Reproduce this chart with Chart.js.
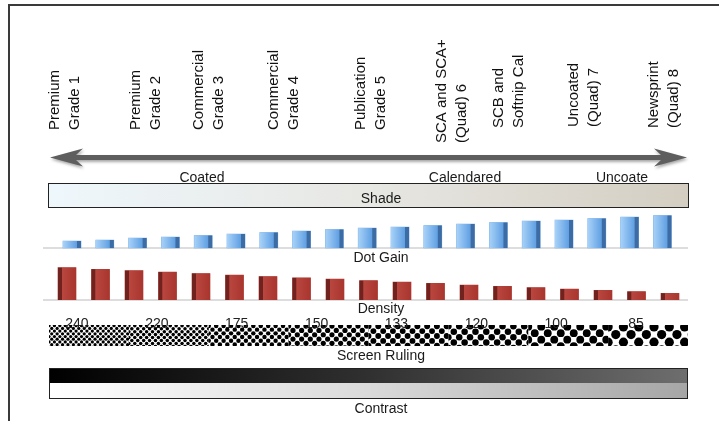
<!DOCTYPE html>
<html>
<head>
<meta charset="utf-8">
<script src="https://cdn.jsdelivr.net/npm/chart.js@4/dist/chart.umd.min.js"></script>
<style>
  html, body { margin: 0; padding: 0; background: #fff; }
  #chart { display: block; }
</style>
</head>
<body>
<canvas id="chart" width="719" height="421"></canvas>
<script>
// paper grades along the top, two lines each
const grades = [
  ["Premium", "Grade 1"],
  ["Premium", "Grade 2"],
  ["Commercial", "Grade 3"],
  ["Commercial", "Grade 4"],
  ["Publication", "Grade 5"],
  ["SCA and SCA+", "(Quad) 6"],
  ["SCB and", "Softnip Cal"],
  ["Uncoated", "(Quad) 7"],
  ["Newsprint", "(Quad) 8"]
]
const finishes = ["Coated", "Calendared", "Uncoate"]
const dotGain = [7, 8, 10, 11, 12.5, 14, 15.5, 17, 18.5, 20, 21, 22.5, 24, 25.5, 27, 28, 29.5, 31, 32.5]
const density = [32.3, 30.7, 29.3, 27.9, 26.5, 24.8, 23.5, 22.1, 20.8, 19.3, 18, 16.7, 15, 13.7, 12.3, 11, 9.7, 8.3, 6.7]
const rulings = [240, 220, 175, 150, 133, 120, 100, 85]

// layout only
const gradeX = [64.5, 145.5, 209, 284, 370.5, 452, 508.5, 583.5, 663.5]
const gradeBottom = [130, 130, 130, 130, 130, 143, 128, 127, 128]
const finishX = [202, 465, 622]
const BAND_L = 49, BAND_R = 688
const font = (s) => `${s}px "Liberation Sans", Arial, sans-serif`

function bandLabel(ctx, text, y) {
  ctx.fillStyle = "#1a1a1a"
  ctx.font = font(14)
  ctx.textAlign = "center"
  ctx.textBaseline = "alphabetic"
  ctx.fillText(text, 381, y)
}

const paperPlugin = {
  id: "paper",
  beforeDatasetsDraw(chart) {
    const { ctx } = chart
    ctx.save()

    // frame (cut off on right and bottom)
    ctx.strokeStyle = "#3a3a3a"
    ctx.lineWidth = 2
    ctx.beginPath()
    ctx.moveTo(9, 421); ctx.lineTo(9, 5); ctx.lineTo(719, 5)
    ctx.stroke()

    // rotated grade headers
    ctx.fillStyle = "#111"
    ctx.font = font(15)
    ctx.textAlign = "left"
    ctx.textBaseline = "middle"
    grades.forEach((lines, i) => {
      lines.forEach((t, j) => {
        ctx.save()
        ctx.translate(gradeX[i] + (j - (lines.length - 1) / 2) * 20, gradeBottom[i])
        ctx.rotate(-Math.PI / 2)
        ctx.fillText(t, 0, 0)
        ctx.restore()
      })
    })

    // double arrow
    ctx.save()
    ctx.shadowColor = "rgba(0,0,0,0.35)"
    ctx.shadowBlur = 3
    ctx.shadowOffsetX = 1
    ctx.shadowOffsetY = 2
    ctx.fillStyle = "#5e5e5e"
    ctx.beginPath()
    ctx.moveTo(50, 157.5)
    ctx.lineTo(83, 148.5)
    ctx.lineTo(76, 155)
    ctx.lineTo(661, 155)
    ctx.lineTo(654, 148.5)
    ctx.lineTo(687, 157.5)
    ctx.lineTo(654, 166.5)
    ctx.lineTo(661, 160)
    ctx.lineTo(76, 160)
    ctx.lineTo(83, 166.5)
    ctx.closePath()
    ctx.fill()
    ctx.restore()

    ctx.fillStyle = "#1a1a1a"
    ctx.font = font(14)
    ctx.textAlign = "center"
    ctx.textBaseline = "alphabetic"
    finishes.forEach((t, i) => ctx.fillText(t, finishX[i], 182))

    // shade strip
    let g = ctx.createLinearGradient(BAND_L, 0, BAND_R, 0)
    g.addColorStop(0, "#eef7fc")
    g.addColorStop(0.5, "#e7e7e3")
    g.addColorStop(1, "#d4cec2")
    ctx.fillStyle = g
    ctx.fillRect(48.5, 183.5, 640, 24)
    ctx.strokeStyle = "#222"
    ctx.lineWidth = 1
    ctx.strokeRect(48.5, 183.5, 640, 24)
    bandLabel(ctx, "Shade", 203)

    // baselines under the bars
    ctx.strokeStyle = "#d2d2d2"
    ctx.lineWidth = 1.5
    ;[chart.scales.yG, chart.scales.yD].forEach((s) => {
      const y = s.getPixelForValue(0)
      ctx.beginPath(); ctx.moveTo(43, y); ctx.lineTo(688, y); ctx.stroke()
    })
    bandLabel(ctx, "Dot Gain", 262)
    bandLabel(ctx, "Density", 313)

    // screen ruling halftone
    const segW = (BAND_R - BAND_L) / rulings.length
    const top = 325, bot = 346
    rulings.forEach((lpi, s) => {
      const x0 = BAND_L + s * segW
      const p = 1300 / lpi
      const r = 0.3 * p
      ctx.save()
      ctx.beginPath()
      ctx.rect(x0, top, segW, bot - top)
      ctx.clip()
      ctx.fillStyle = "#000"
      let k = 0
      for (let y = top + p / 8; y < bot + p; y += p / 2, k++) {
        const off = (k % 2) * p / 2
        for (let x = x0 + off - p; x < x0 + segW + p; x += p) {
          ctx.beginPath()
          ctx.arc(x, y, r, 0, Math.PI * 2)
          ctx.fill()
        }
      }
      ctx.restore()
    })
    ctx.fillStyle = "#222"
    ctx.font = font(14)
    ctx.textAlign = "center"
    rulings.forEach((lpi, s) => {
      ctx.fillText(String(lpi), BAND_L + s * segW + segW * 0.35, 328)
    })
    bandLabel(ctx, "Screen Ruling", 360)

    // contrast strip
    g = ctx.createLinearGradient(BAND_L, 0, BAND_R, 0)
    g.addColorStop(0, "#000")
    g.addColorStop(0.5, "#303030")
    g.addColorStop(1, "#6e6e6e")
    ctx.fillStyle = g
    ctx.fillRect(49, 368, 639, 15)
    g = ctx.createLinearGradient(BAND_L, 0, BAND_R, 0)
    g.addColorStop(0, "#ffffff")
    g.addColorStop(0.5, "#dadada")
    g.addColorStop(1, "#a6a6a6")
    ctx.fillStyle = g
    ctx.fillRect(49, 383, 639, 15)
    ctx.strokeStyle = "#222"
    ctx.lineWidth = 1
    ctx.strokeRect(49.5, 368.5, 638, 30)
    bandLabel(ctx, "Contrast", 413)

    ctx.restore()
  },
  afterDatasetsDraw(chart) {
    // fake 3D faces on top of the library's bars
    const { ctx } = chart
    ctx.save()
    chart.getSortedVisibleDatasetMetas().forEach((meta) => {
      meta.data.forEach((el) => {
        const { x, y, base, width } = el.getProps(["x", "y", "base", "width"], true)
        const left = x - width / 2
        const h = base - y
        const side = 4
        if (meta.yAxisID === "yG") {
          const g = ctx.createLinearGradient(left, 0, left + width - side, 0)
          g.addColorStop(0, "#a8d2f8")
          g.addColorStop(1, "#5f9fe2")
          ctx.fillStyle = g
          ctx.fillRect(left, y, width - side, h)
          ctx.fillStyle = "#3c6ca3"
          ctx.fillRect(left + width - side, y, side, h)
        } else {
          ctx.fillStyle = "#6f221e"
          ctx.fillRect(left, y, side, h)
          const g = ctx.createLinearGradient(left + side, 0, left + width, 0)
          g.addColorStop(0, "#b9463f")
          g.addColorStop(1, "#a8362f")
          ctx.fillStyle = g
          ctx.fillRect(left + side, y, width - side, h)
        }
      })
    })
    ctx.restore()
  }
}

new Chart(document.getElementById("chart"), {
  type: "bar",
  data: {
    datasets: [
      {
        label: "Dot Gain",
        data: dotGain.map((v, i) => ({ x: i, y: v })),
        xAxisID: "xG", yAxisID: "yG",
        backgroundColor: "#6fa9e6",
        barThickness: 18, grouped: false
      },
      {
        label: "Density",
        data: density.map((v, i) => ({ x: i, y: v })),
        xAxisID: "xD", yAxisID: "yD",
        backgroundColor: "#b03c35",
        barThickness: 18, grouped: false
      }
    ]
  },
  options: {
    responsive: false,
    animation: false,
    devicePixelRatio: 1,
    layout: { padding: { left: 50.25, right: 32.25, top: 150, bottom: 121 } },
    plugins: { legend: { display: false }, tooltip: { enabled: false } },
    scales: {
      xG: { type: "linear", axis: "x", display: false, offset: false, min: -0.663, max: 18.742 },
      xD: { type: "linear", axis: "x", display: false, offset: false, min: -0.5, max: 18.5 },
      yG: { type: "linear", axis: "y", display: false, min: -52, max: 98 },
      yD: { type: "linear", axis: "y", display: false, min: 0, max: 150 }
    }
  },
  plugins: [paperPlugin]
})
</script>
</body>
</html>
